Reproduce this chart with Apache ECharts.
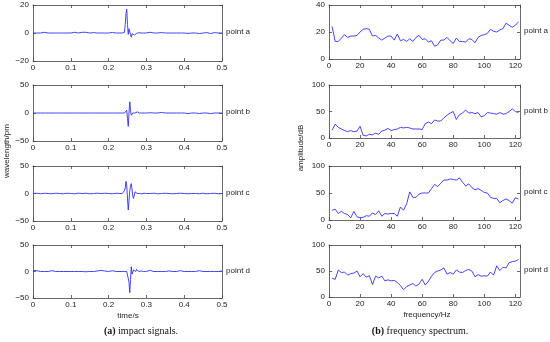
<!DOCTYPE html>
<html><head><meta charset="utf-8">
<script src="https://cdn.jsdelivr.net/npm/echarts@6/dist/echarts.min.js"></script>
<style>html,body{margin:0;padding:0;background:#fff}#c{width:550px;height:342px}</style>
</head><body><div id="c"></div>
<script>
// ---- data ----
const timeS = [
 0,0.01,0.02,0.03,0.04,0.05,0.06,0.07,0.08,0.09,0.10,0.11,0.12,0.13,0.14,0.15,0.16,0.17,0.18,0.19,0.20,0.21,0.22,0.23,
 0.232,0.234,0.236,0.238,0.240,0.242,0.244,0.246,0.248,0.250,0.252,0.254,0.256,0.258,0.260,0.262,0.264,0.266,0.268,0.270,
 0.272,0.274,0.276,0.278,0.280,0.282,0.284,0.286,0.288,0.290,0.292,0.294,0.296,0.298,0.300,
 0.31,0.32,0.33,0.34,0.35,0.36,0.37,0.38,0.39,0.40,0.41,0.42,0.43,0.44,0.45,0.46,0.47,0.48,0.49,0.50];
const impactA = [
 0,0,0,0.5,0,0,0,0,0,0,0,0.5,0,0.5,0.5,0,0.3,0,0,0,0,0.4,0,0,
 0,0,0,0,0,0.5,6,14,17,6,-1,3,4,-1,-3,-0.5,0.5,-1,-1.5,-0.8,
 -0.5,-0.3,0,0,0.2,0,0,0,0,0.3,0,0,0,0,0,
 0.5,0,0,0.3,0,0,0,0,0,0,-0.3,0,0,-0.4,0,0.3,-0.4,0.3,0,0];
const impactB = [
 0,0,0,0,0,0,0,0,0,0,0,0,0,0,0,0,0,0,0,0,0,0,0,0,
 0,0,0,0,0,0,0,2,5,-10,-24,0,20,5,-4,-5,0,3,2,0,
 1,3,2,0,0,0,0,1,0,0,0,0,0,0,0,
 0.5,0,0,1,0,0,0,0,0,0,-1,0,0,-1,0,0,-1,0,0,0];
const impactC = [
 0,0.5,-0.5,0.5,0,-0.5,0.5,0,-0.5,0.5,0,-0.5,0.5,0,0.5,-0.5,0,0.5,0,0.5,0,-0.5,0.5,0,
 0,0,0,0,2,5,10,22,15,-10,-30,-12,5,14,18,8,-5,-9,-3,3,
 4,1,0,0,0.5,0,0,0,-0.5,0,0,0.5,0,0,0,
 0,0.5,-0.5,0,0.5,0,-0.5,0,0.5,0,-0.5,0,0,-0.5,0.5,-0.5,0,0.5,-0.5,0];
const impactD = [
 2,1.5,0,0,0,1.5,0,0,0,0,0,0,0,0,-0.5,0,0,1,2,1,0,1.5,0,0,
 0,0,0,0,0,0,0,0,0,0,-2,-20,-40,-15,9,-5,-2,3,5,1,
 0,4,6,2,0,1,2,1,0,1.5,0,0,0,0,0,
 2,0,0,0,0,1,0,0,1.5,0,0,0,0,1.5,0,0,0,0,0,1];

const freqHz = [2,4,6,8,10,12,14,16,18,20,22,24,26,28,30,32,34,36,38,40,42,44,46,48,50,52,54,56,58,60,
 62,64,66,68,70,72,74,76,78,80,82,84,86,88,90,92,94,96,98,100,102,104,106,108,110,112,114,116,118,120,122];
const specA = [24,13,13,15.5,18,16,17,17,17.5,20,22,22.5,22,17,17.5,15.5,14,15.5,17,17,14,18.5,13.5,14.5,13,15,13,16,17.5,14.5,
 15,12.5,13.5,9.5,10.5,14,14,16,13.5,11.5,15.5,13,13,12.5,15,14.5,12,16,17.5,18,19,22,20.5,20,21.5,22.5,26.5,25,23.5,25,27.5];
const specB = [15,26,20,17,14,12,14,12,13,22,5,4,7,6,9,7,13,15,18,14,16,17,20,19,20,19,17,17,17,16,
 27,30,27,34,32,32,38,43,47,50,35,44,47,53,47,48,46,48,40,42,48,47,46,45,48,45,46,50,55,50,48];
const specC = [18,20,12,16,12,10,4,16,6,4,5,8,7,13,10,17,7,12,11,12,12,7,24,18,30,52,42,42,48,50,
 50,50,58,66,62,68,74,74,76,75,74,78,70,63,67,60,56,58,55,51,50,42,40,40,32,36,39,36,31,41,39];
const specD = [36,34,52,47,48,42,45,46,50,39,45,38,41,24,40,37,40,31,33,31,32,28,22,14,20,23,26,21,25,34,
 23,30,40,47,50,52,56,44,47,44,52,48,47,51,53,50,39,43,40,41,40,48,42,60,51,57,56,66,68,69,72];

const pointNames = ['point a','point b','point c','point d'];
const timeTicks = {min:0, max:0.5, interval:0.1};
const freqTicks = {min:0, max:123, interval:20};
const impactY = [[-20,20,20],[-50,50,50],[-50,50,50],[-50,50,50]];
const specY = [[0,40,20],[0,100,50],[0,100,50],[0,100,50]];

// ---- layout ----
const leftRows = [[5,61],[85,141],[166,221],[245,298]];
const rightRows = [[5,59],[85,138],[166,220],[245,297]];
const LX = [33,222], RX = [329,520];

const chart = echarts.init(document.getElementById('c'), null, {renderer:'canvas'});
const grids=[], xAxes=[], yAxes=[], series=[], graphics=[];
const lab = {fontFamily:'Liberation Sans, Arial, sans-serif', fontSize:8, color:'#222'};
const fmt = v => String(Math.round(v*1000)/1000).replace('-','\u2212');
const frame = {show:true, onZero:false, lineStyle:{color:'#444', width:0.8}};
const tick = {show:true, inside:true, length:3, lineStyle:{color:'#444', width:0.8}};

function addPanel(xr, row, xt, yt, xs, ys, name) {
  const gi = grids.length;
  grids.push({left:xr[0], top:row[0], width:xr[1]-xr[0], height:row[1]-row[0]});
  const xi = xAxes.length;
  xAxes.push({type:'value', gridIndex:gi, position:'bottom', min:xt.min, max:xt.max, interval:xt.interval,
    axisLine:frame, axisTick:tick, splitLine:{show:false},
    axisLabel:Object.assign({margin:3, formatter:fmt, showMaxLabel:xt.max===0.5}, lab)});
  xAxes.push({type:'value', gridIndex:gi, position:'top', min:xt.min, max:xt.max, interval:xt.interval,
    axisLine:frame, axisTick:tick, splitLine:{show:false}, axisLabel:{show:false}});
  const yi = yAxes.length;
  yAxes.push({type:'value', gridIndex:gi, position:'left', min:yt[0], max:yt[1], interval:yt[2],
    axisLine:frame, axisTick:tick, splitLine:{show:false},
    axisLabel:Object.assign({margin:4, formatter:fmt}, lab)});
  yAxes.push({type:'value', gridIndex:gi, position:'right', min:yt[0], max:yt[1], interval:yt[2],
    axisLine:frame, axisTick:tick, splitLine:{show:false}, axisLabel:{show:false}});
  series.push({type:'line', xAxisIndex:xi, yAxisIndex:yi, symbol:'none', animation:false,
    lineStyle:{color:'#2f2fff', width:0.9},
    data: xs.map((x,i)=>[x, ys[i]])});
  const zeroFrac = (yt[1]-(yt[0]+yt[1])/2)/(yt[1]-yt[0]);
  graphics.push({type:'text', left:xr[1]+4, top:row[0]+(row[1]-row[0])*zeroFrac-5,
    style:{text:name, font:'8px Liberation Sans, Arial, sans-serif', fill:'#222'}});
}

const impacts=[impactA,impactB,impactC,impactD];
const specs=[specA,specB,specC,specD];
for (let i=0;i<4;i++) addPanel(LX, leftRows[i], timeTicks, impactY[i], timeS, impacts[i], pointNames[i]);
for (let i=0;i<4;i++) addPanel(RX, rightRows[i], freqTicks, specY[i], freqHz, specs[i], pointNames[i]);

graphics.push(
  {type:'text', x:7, y:151, rotation:Math.PI/2, style:{text:'wavelength/pm', font:'8px Liberation Sans, Arial, sans-serif', fill:'#222', textAlign:'center', textVerticalAlign:'middle'}},
  {type:'text', x:301, y:148, rotation:Math.PI/2, style:{text:'amplitude/dB', font:'8px Liberation Sans, Arial, sans-serif', fill:'#222', textAlign:'center', textVerticalAlign:'middle'}},
  {type:'text', x:128, y:316, style:{text:'time/s', font:'8px Liberation Sans, Arial, sans-serif', fill:'#222', textAlign:'center', textVerticalAlign:'middle'}},
  {type:'text', x:427, y:315, style:{text:'frequency/Hz', font:'8px Liberation Sans, Arial, sans-serif', fill:'#222', textAlign:'center', textVerticalAlign:'middle'}},
  {type:'text', x:141, y:331, style:{text:'{b|(a)} impact signals.', textAlign:'center', textVerticalAlign:'middle',
     font:'10px Liberation Serif, serif', fill:'#111', rich:{b:{fontWeight:'bold', fontFamily:'Liberation Serif, serif', fontSize:10, fill:'#111'}}}},
  {type:'text', x:420, y:331, style:{text:'{b|(b)} frequency spectrum.', textAlign:'center', textVerticalAlign:'middle',
     font:'10px Liberation Serif, serif', fill:'#111', rich:{b:{fontWeight:'bold', fontFamily:'Liberation Serif, serif', fontSize:10, fill:'#111'}}}}
);

chart.setOption({animation:false, backgroundColor:'#fff', grid:grids, xAxis:xAxes, yAxis:yAxes, series:series, graphic:graphics});
</script></body></html>
